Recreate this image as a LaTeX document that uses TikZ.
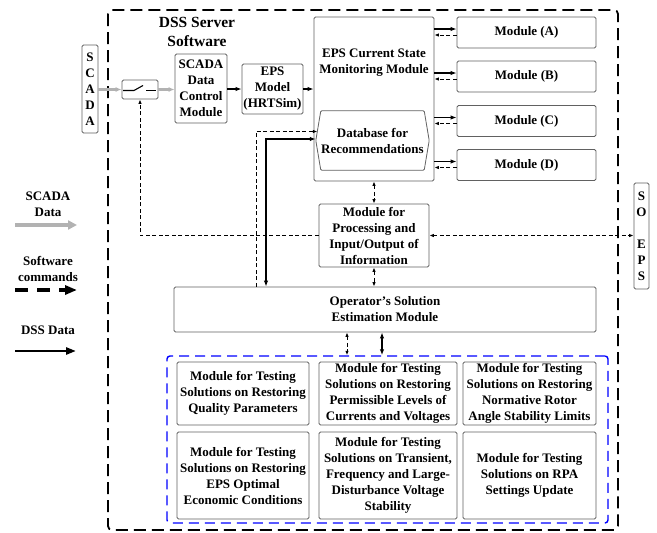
\documentclass[tikz,border=0pt]{standalone}
\usepackage{fontspec}
\setmainfont{Liberation Serif}
\usetikzlibrary{arrows.meta,calc}
\newcommand\mysize{\fontsize{13}{16}\selectfont}
\begin{document}
\begin{tikzpicture}[x=1pt,y=-1pt,
  box/.style={draw=black!62, line width=0.8pt, rounded corners=1.5pt, align=center,
    font=\bfseries\mysize, inner sep=0pt},
  txt/.style={align=center, font=\bfseries\mysize, inner sep=0pt},
  dss/.style={line width=1.8pt, black},
  dssR/.style={dss, -{Latex[length=6pt,width=4.5pt]}},
  dssB/.style={dss, {Latex[length=6pt,width=4.5pt]}-{Latex[length=6pt,width=4.5pt]}},
  cmd/.style={line width=1pt, black, dash pattern=on 4pt off 2.5pt},
  cmdR/.style={cmd, -{Latex[length=4.5pt,width=3.5pt]}},
  cmdB/.style={cmd, {Latex[length=4.5pt,width=3.5pt]}-{Latex[length=4.5pt,width=3.5pt]}},
  scd/.style={line width=2.6pt, black!30, -{Latex[length=6pt,width=5pt]}},
]
\useasboundingbox (0,0) rectangle (657,533);

% outer dashed frame
\draw[line width=1.8pt, dash pattern=on 12pt off 6pt, rounded corners=4pt] (108,10) rectangle (618,530);
\node[txt, font=\bfseries\fontsize{15.5}{19}\selectfont] (title) at (197,32) {DSS Server\\Software};

% left chain
\node[box, minimum width=16pt, minimum height=88pt] (scada) at (90,89) {S\\C\\A\\D\\A};
\node[box, minimum width=36pt, minimum height=19pt] (sw) at (140,89.5) {};
\draw[line width=1.1pt] (123,90.5) -- (134,90.5) -- (143,85.5);
\draw[line width=1.1pt] (146,90.5) -- (156,90.5);
\node[box, minimum width=52pt, minimum height=69pt] (sdcm) at (201,88.5) {SCADA\\Data\\Control\\Module};
\node[box, minimum width=61pt, minimum height=50pt] (eps) at (272.5,89) {EPS\\Model\\(HRTSim)};

% current state block
\node[box, minimum width=120pt, minimum height=164pt] (cur) at (374,99) {};
\node[txt] (curtxt) at (374,63) {EPS Current State\\Monitoring Module};
\node[txt, minimum width=113pt, minimum height=59pt] (db) at (372.5,140.5) {Database for\\Recommendations};
\draw[draw=black!62, line width=0.8pt, rounded corners=1pt]
  ([xshift=5pt]db.north west) -- ([xshift=-5pt]db.north east) -- (db.east)
  -- ([xshift=-5pt]db.south east) -- ([xshift=5pt]db.south west) -- (db.west) -- cycle;

% modules A-D
\node[box, minimum width=139pt, minimum height=31pt] (mA) at (526.5,32.5) {Module (A)};
\node[box, minimum width=139pt, minimum height=31pt] (mB) at (526.5,76.5) {Module (B)};
\node[box, minimum width=139pt, minimum height=31pt] (mC) at (526.5,121) {Module (C)};
\node[box, minimum width=139pt, minimum height=31pt] (mD) at (526.5,165) {Module (D)};

% processing, SO EPS, operator
\node[box, minimum width=110pt, minimum height=63pt] (proc) at (374,235.5) {Module for\\Processing and\\Input/Output of\\Information};
\node[box, minimum width=15pt, minimum height=106pt] (soeps) at (641.5,236) {S\\O\\ \\E\\P\\S};
\node[box, minimum width=422pt, minimum height=45pt] (op) at (385,309.5) {Operator's Solution\\Estimation Module};

% testing modules
\node[draw=blue, line width=1.4pt, dash pattern=on 10pt off 6pt, rounded corners=3pt,
  minimum width=441pt, minimum height=167pt, inner sep=0pt] (blue) at (387.5,439.5) {};
\node[box, minimum width=132pt, minimum height=63pt] (t11) at (243,393.5) {Module for Testing\\Solutions on Restoring\\Quality Parameters};
\node[box, minimum width=138pt, minimum height=63pt] (t12) at (388,393.5) {Module for Testing\\Solutions on Restoring\\Permissible Levels of\\Currents and Voltages};
\node[box, minimum width=133pt, minimum height=63pt] (t13) at (529.5,393.5) {Module for Testing\\Solutions on Restoring\\Normative Rotor\\Angle Stability Limits};
\node[box, minimum width=132pt, minimum height=87pt] (t21) at (243,475.5) {Module for Testing\\Solutions on Restoring\\EPS Optimal\\Economic Conditions};
\node[box, minimum width=138pt, minimum height=87pt] (t22) at (388,475.5) {Module for Testing\\Solutions on Transient,\\Frequency and Large-\\Disturbance Voltage\\Stability};
\node[box, minimum width=133pt, minimum height=87pt] (t23) at (529.5,475.5) {Module for Testing\\Solutions on RPA\\Settings Update};

% SCADA data flow
\draw[scd] (scada.east |- sw.west) -- (sw.west);
\draw[scd] (sw.east) -- (sw.east -| sdcm.west);
% DSS data flow
\draw[dssR] (sdcm.east |- eps.west) -- (eps.west);
\draw[dssR] (eps.east) -- (eps.east -| cur.west);
\foreach \m in {mA,mB,mC,mD}{
  \draw[dssR] ([yshift=3.5pt]\m.west -| cur.east) -- ([yshift=3.5pt]\m.west);
  \draw[cmdR] ([yshift=-2.5pt]\m.west) -- ([yshift=-2.5pt]\m.west -| cur.east);
}
% vertical links
\draw[cmdB] (cur.south -| proc.north) -- (proc.north);
\draw[cmdB] (proc.south) -- (proc.south |- op.north);
\draw[cmdR] (proc.west) -| (sw.south);
\draw[cmdB] (proc.east) -- (proc.east -| soeps.west);
\draw[cmdR] ([xshift=-129pt]op.north) |- ([xshift=1.6pt,yshift=9pt]db.west);
\draw[dssB] ([yshift=1.5pt]db.west) -| ([xshift=-119pt]op.north);
\draw[cmdB] ([xshift=-38pt]op.south) -- ([xshift=-38pt]op.south |- blue.north);
\draw[dssB] ([xshift=-3pt]op.south) -- ([xshift=-3pt]op.south |- blue.north);

% legend
\node[txt] (lg1) at (48,204) {SCADA\\Data};
\coordinate (lg1a) at (15,225); \coordinate (lg1b) at (77,225);
\draw[line width=4pt, black!30, -{Triangle[length=9pt,width=9pt]}] (lg1a) -- (lg1b);
\node[txt] (lg2) at (48,268.5) {Software\\commands};
\coordinate (lg2a) at (15,290); \coordinate (lg2b) at (77,290);
\draw[line width=4pt, black, dash pattern=on 13pt off 9pt, -{Triangle[length=12pt,width=9pt]}] (lg2a) -- (lg2b);
\node[txt] (lg3) at (48,330) {DSS Data};
\coordinate (lg3a) at (15,351); \coordinate (lg3b) at (76,351);
\draw[line width=2.6pt, black, -{Triangle[length=10pt,width=7pt]}] (lg3a) -- (lg3b);
\end{tikzpicture}
\end{document}
